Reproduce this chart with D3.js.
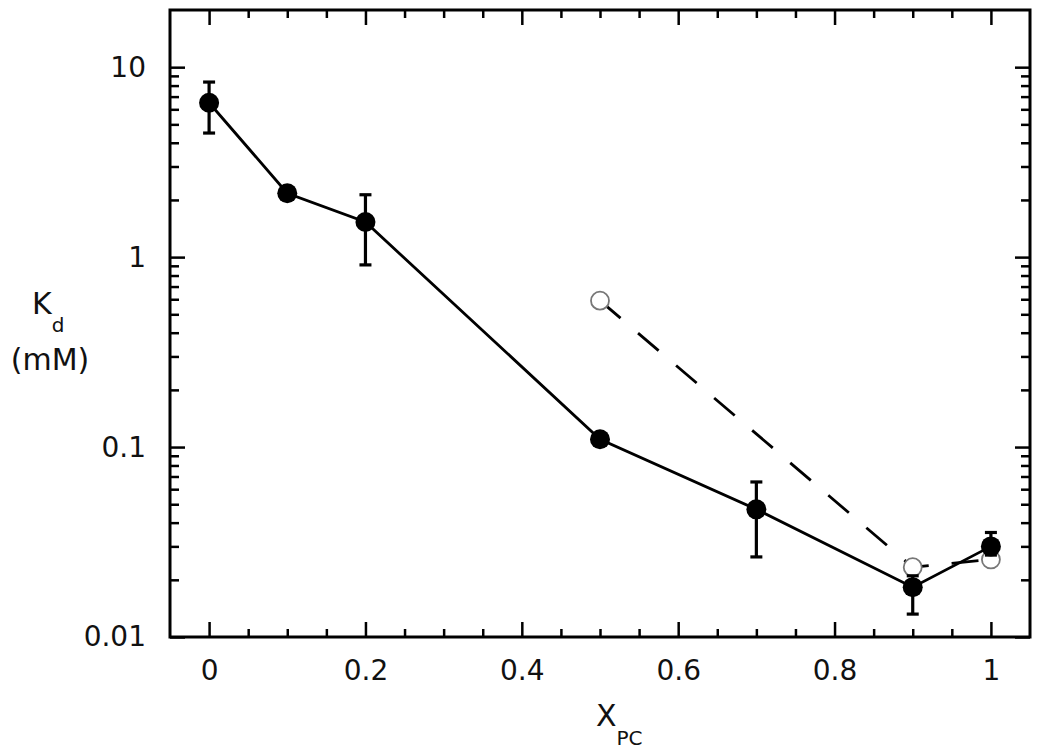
<!DOCTYPE html>
<html>
<head>
<meta charset="utf-8">
<script src="https://cdn.jsdelivr.net/npm/d3@7"></script>
<style>
  body { margin: 0; background: #fff; }
  text { font-family: "DejaVu Sans", Verdana, sans-serif; fill: #111; }
  .axis path { display: none; }
  .axis line { stroke: #000; stroke-width: 2.5; }
</style>
</head>
<body>
<svg width="1050" height="750"></svg>
<script>
// filled series (solid line)
var xPC = [0, 0.1, 0.2, 0.5, 0.7, 0.9, 1];
var kd = [6.5, 2.17, 1.53, 0.11, 0.047, 0.0183, 0.030];
var kdLow = [4.5, null, 0.91, null, 0.0264, 0.0132, 0.027];
var kdHigh = [8.35, null, 2.13, null, 0.0655, 0.021, 0.0355];

// open series (dashed line)
var xPCOpen = [0.5, 0.9, 1];
var kdOpen = [0.59, 0.0233, 0.0256];

var xTicks = [0, 0.2, 0.4, 0.6, 0.8, 1];
var xTickLabels = ["0", "0.2", "0.4", "0.6", "0.8", "1"];
var yTicks = [0.01, 0.1, 1, 10];
var yTickLabels = ["0.01", "0.1", "1", "10"];

var svg = d3.select("svg");
var plotL = 170, plotR = 1030, plotT = 10, plotB = 637;

var x = d3.scaleLinear().domain([-0.05, 1.05]).range([plotL, plotR]);
var y = d3.scaleLog().domain([0.01, 20]).range([plotB, plotT]);

var xMinor = d3.range(0, 1.0001, 0.05).filter(function(v) {
  return Math.abs(v * 5 - Math.round(v * 5)) > 1e-6;
});
var yMinor = [];
[0.01, 0.1, 1, 10].forEach(function(d) {
  for (var k = 2; k <= 9; k++) if (d * k < 20) yMinor.push(d * k);
});

// bottom
svg.append("g").attr("class", "axis").attr("transform", "translate(0," + plotB + ")")
  .call(d3.axisBottom(x).tickValues(xTicks).tickSize(-15).tickPadding(23)
    .tickFormat(function(d, i) { return xTickLabels[i]; }))
  .selectAll("text").attr("font-size", 28).attr("fill", "#111");
svg.append("g").attr("class", "axis").attr("transform", "translate(0," + plotB + ")")
  .call(d3.axisBottom(x).tickValues(xMinor).tickSize(-8).tickFormat(""));
// top
svg.append("g").attr("class", "axis").attr("transform", "translate(0," + plotT + ")")
  .call(d3.axisTop(x).tickValues(xTicks).tickSize(-15).tickFormat(""));
svg.append("g").attr("class", "axis").attr("transform", "translate(0," + plotT + ")")
  .call(d3.axisTop(x).tickValues(xMinor).tickSize(-8).tickFormat(""));
// left
svg.append("g").attr("class", "axis").attr("transform", "translate(" + plotL + ",0)")
  .call(d3.axisLeft(y).tickValues(yTicks).tickSize(-15).tickPadding(24)
    .tickFormat(function(d, i) { return yTickLabels[i]; }))
  .selectAll("text").attr("font-size", 28).attr("fill", "#111");
svg.append("g").attr("class", "axis").attr("transform", "translate(" + plotL + ",0)")
  .call(d3.axisLeft(y).tickValues(yMinor).tickSize(-9).tickFormat(""));
// right
svg.append("g").attr("class", "axis").attr("transform", "translate(" + plotR + ",0)")
  .call(d3.axisRight(y).tickValues(yTicks).tickSize(-15).tickFormat(""));
svg.append("g").attr("class", "axis").attr("transform", "translate(" + plotR + ",0)")
  .call(d3.axisRight(y).tickValues(yMinor).tickSize(-9).tickFormat(""));

// frame
svg.append("rect")
  .attr("x", plotL).attr("y", plotT)
  .attr("width", plotR - plotL).attr("height", plotB - plotT)
  .attr("fill", "none").attr("stroke", "#000").attr("stroke-width", 3);

var line = d3.line()
  .x(function(d) { return x(d[0]); })
  .y(function(d) { return y(d[1]); });

// dashed open series
var openData = xPCOpen.map(function(v, i) { return [v, kdOpen[i]]; });
svg.append("path")
  .datum(openData)
  .attr("d", line)
  .attr("fill", "none")
  .attr("stroke", "#000")
  .attr("stroke-width", 2.8)
  .attr("stroke-dasharray", "27,23");
svg.selectAll(".open")
  .data(openData)
  .enter().append("circle")
  .attr("class", "open")
  .attr("cx", function(d) { return x(d[0]); })
  .attr("cy", function(d) { return y(d[1]); })
  .attr("r", 9)
  .attr("fill", "#fff")
  .attr("stroke", "#777")
  .attr("stroke-width", 1.8);

// solid filled series
var filledData = xPC.map(function(v, i) { return [v, kd[i], kdLow[i], kdHigh[i]]; });
svg.append("path")
  .datum(filledData)
  .attr("d", line)
  .attr("fill", "none")
  .attr("stroke", "#000")
  .attr("stroke-width", 2.8);

var errs = svg.selectAll(".err")
  .data(filledData.filter(function(d) { return d[2] != null; }))
  .enter().append("g").attr("class", "err")
  .attr("stroke", "#000").attr("stroke-width", 3.2);
errs.append("line")
  .attr("x1", function(d) { return x(d[0]); })
  .attr("x2", function(d) { return x(d[0]); })
  .attr("y1", function(d) { return y(d[2]); })
  .attr("y2", function(d) { return y(d[3]); });
errs.append("line")
  .attr("x1", function(d) { return x(d[0]) - 6; })
  .attr("x2", function(d) { return x(d[0]) + 6; })
  .attr("y1", function(d) { return y(d[2]); })
  .attr("y2", function(d) { return y(d[2]); });
errs.append("line")
  .attr("x1", function(d) { return x(d[0]) - 6; })
  .attr("x2", function(d) { return x(d[0]) + 6; })
  .attr("y1", function(d) { return y(d[3]); })
  .attr("y2", function(d) { return y(d[3]); });

svg.selectAll(".filled")
  .data(filledData)
  .enter().append("circle")
  .attr("class", "filled")
  .attr("cx", function(d) { return x(d[0]); })
  .attr("cy", function(d) { return y(d[1]); })
  .attr("r", 10)
  .attr("fill", "#000");

// axis titles
var xt = svg.append("text").attr("x", 606).attr("y", 726)
  .attr("text-anchor", "start").attr("font-size", 30);
xt.append("tspan").attr("x", 596).text("X");
xt.append("tspan").attr("dy", 19).attr("font-size", 20).text("PC");

var yt = svg.append("text").attr("y", 314).attr("font-size", 30);
yt.append("tspan").attr("x", 32).text("K");
yt.append("tspan").attr("dy", 18).attr("font-size", 20).text("d");
svg.append("text").attr("x", 50).attr("y", 370)
  .attr("text-anchor", "middle").attr("font-size", 30).text("(mM)");
</script>
</body>
</html>
